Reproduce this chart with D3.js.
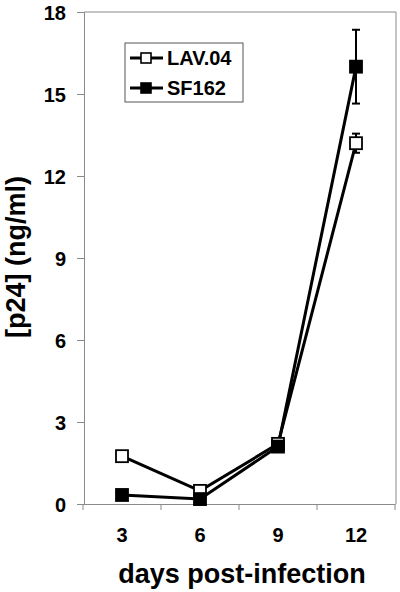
<!DOCTYPE html>
<html>
<head>
<meta charset="utf-8">
<script src="https://cdn.jsdelivr.net/npm/d3@7"></script>
<style>
  body { margin: 0; background: #fff; }
  svg text { font-family: "Liberation Sans", Arial, sans-serif; font-weight: bold; fill: #000; }
</style>
</head>
<body>
<svg id="chart" width="400" height="592"></svg>
<script>
// data
var days = ['3', '6', '9', '12'];
var yTicks = [0, 3, 6, 9, 12, 15, 18];
var lavValues = [1.75, 0.48, 2.2, 13.2];
var lavErrors = [0, 0, 0, 0.35];
var sfValues = [0.33, 0.18, 2.1, 16.0];
var sfErrors = [0, 0, 0, 1.35];
var seriesNames = ['LAV.04', 'SF162'];

var svg = d3.select('#chart');
var plotLeft = 84, plotRight = 396, plotTop = 12, plotBottom = 504;
var axisGrey = '#8a8a8a';

var xScale = d3.scaleBand().domain(days).range([plotLeft - 1, plotRight - 1]);
var yScale = d3.scaleLinear().domain([0, 18]).range([plotBottom, plotTop]);

// plot frame (top and right sides, excel style)
svg.append('path')
    .attr('d', 'M' + plotLeft + ',' + plotTop + 'H' + plotRight + 'V' + plotBottom)
    .style('fill', 'none')
    .style('stroke', axisGrey)
    .style('stroke-width', 1);

// y axis
var yAxis = svg.append('g')
    .attr('transform', 'translate(' + plotLeft + ',0)')
    .call(d3.axisLeft(yScale).tickValues(yTicks).tickSize(7).tickPadding(11));
yAxis.select('.domain').style('stroke', axisGrey);
yAxis.selectAll('.tick line').style('stroke', axisGrey);
yAxis.selectAll('.tick text')
    .style('font-size', '20px')
    .attr('dy', '0.36em');

// x axis
var xAxis = svg.append('g')
    .attr('transform', 'translate(0,' + plotBottom + ')')
    .call(d3.axisBottom(xScale).tickSize(0).tickPadding(24));
xAxis.select('.domain').style('stroke', axisGrey);
xAxis.selectAll('.tick text').style('font-size', '20px');
// tick marks between the categories
var boundaries = days.map(function (d) { return xScale(d); }).concat([xScale.range()[1]]);
svg.selectAll('.xBoundaryTick')
    .data(boundaries)
    .enter()
    .append('line')
    .attr('class', 'xBoundaryTick')
    .attr('x1', function (d) { return d; })
    .attr('x2', function (d) { return d; })
    .attr('y1', plotBottom)
    .attr('y2', plotBottom + 6)
    .style('stroke', axisGrey);

// axis titles
svg.append('text')
    .attr('x', 242)
    .attr('y', 583)
    .attr('text-anchor', 'middle')
    .style('font-size', '27px')
    .text('days post-infection');
svg.append('text')
    .attr('transform', 'translate(25,257) rotate(-90)')
    .attr('text-anchor', 'middle')
    .style('font-size', '27px')
    .text('[p24] (ng/ml)');

function xCenter(d) { return xScale(d) + xScale.bandwidth() / 2; }

var series = [
    { name: seriesNames[0], values: lavValues, errors: lavErrors, fill: '#fff' },
    { name: seriesNames[1], values: sfValues, errors: sfErrors, fill: '#000' }
];

var line = d3.line()
    .x(function (d) { return xCenter(d.day); })
    .y(function (d) { return yScale(d.value); });

series.forEach(function (s) {
    var pts = days.map(function (day, i) {
        return { day: day, value: s.values[i], err: s.errors[i] };
    });
    s.points = pts;
    svg.append('path')
        .datum(pts)
        .attr('d', line)
        .style('fill', 'none')
        .style('stroke', '#000')
        .style('stroke-width', 3);
});

series.forEach(function (s) {
    var g = svg.append('g');
    var withErr = s.points.filter(function (d) { return d.err > 0; });
    withErr.forEach(function (d) {
        var cx = xCenter(d.day);
        var y1 = yScale(d.value + d.err), y2 = yScale(d.value - d.err);
        g.append('line')
            .attr('x1', cx).attr('x2', cx).attr('y1', y1).attr('y2', y2)
            .style('stroke', '#000').style('stroke-width', 2);
        [y1, y2].forEach(function (yy) {
            g.append('line')
                .attr('x1', cx - 4).attr('x2', cx + 4).attr('y1', yy).attr('y2', yy)
                .style('stroke', '#000').style('stroke-width', 2);
        });
    });
    g.selectAll('rect')
        .data(s.points)
        .enter()
        .append('rect')
        .attr('x', function (d) { return xCenter(d.day) - 6; })
        .attr('y', function (d) { return yScale(d.value) - 6; })
        .attr('width', 12)
        .attr('height', 12)
        .style('fill', s.fill)
        .style('stroke', '#000')
        .style('stroke-width', 1.8);
});

// legend
var legend = svg.append('g');
legend.append('rect')
    .attr('x', 125).attr('y', 43).attr('width', 118).attr('height', 59)
    .style('fill', '#fff')
    .style('stroke', '#555')
    .style('stroke-width', 1);
series.forEach(function (s, i) {
    var ly = 58 + i * 30;
    legend.append('line')
        .attr('x1', 130).attr('x2', 163).attr('y1', ly).attr('y2', ly)
        .style('stroke', '#000').style('stroke-width', 3);
    legend.append('rect')
        .attr('x', 141).attr('y', ly - 5).attr('width', 10).attr('height', 10)
        .style('fill', s.fill).style('stroke', '#000').style('stroke-width', 1.6);
    legend.append('text')
        .attr('x', 167).attr('y', ly).attr('dy', '0.36em')
        .style('font-size', '20px')
        .text(s.name);
});
</script>
</body>
</html>
